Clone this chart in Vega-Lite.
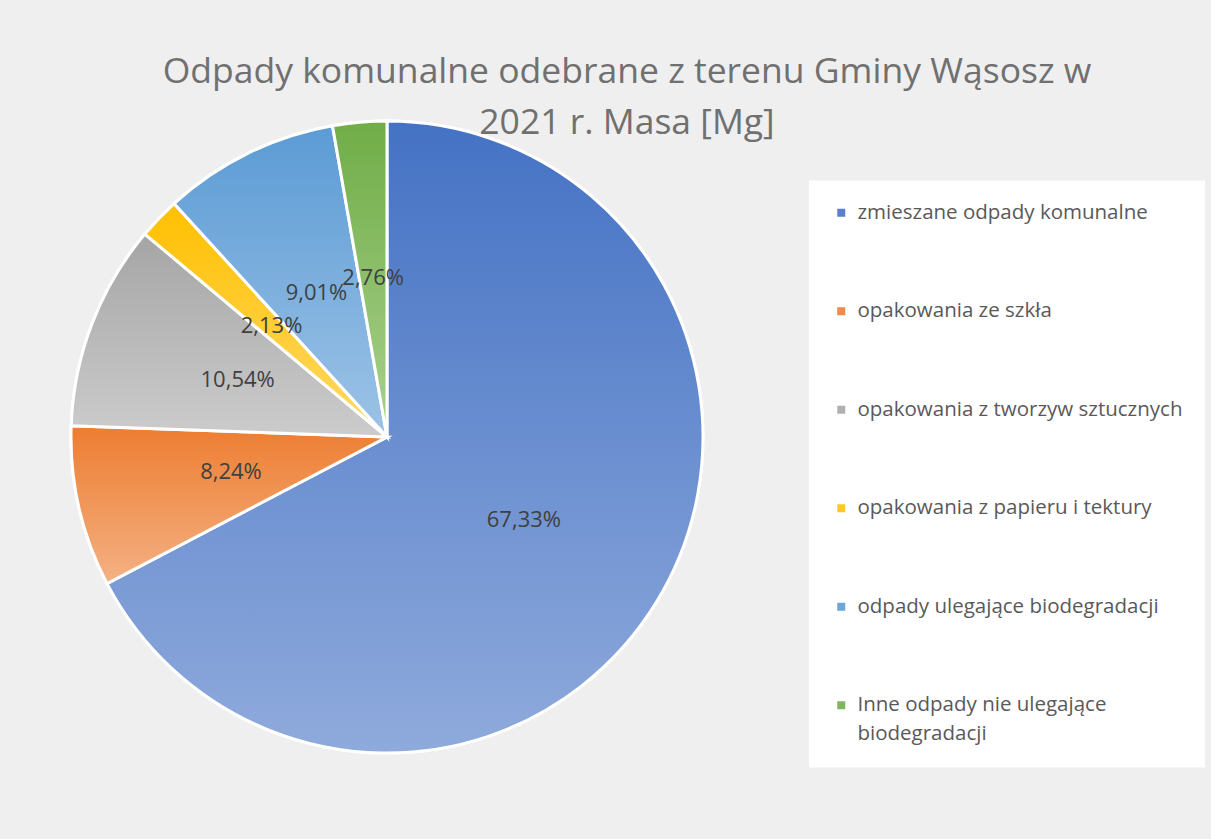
{
  "$schema": "https://vega.github.io/schema/vega-lite/v6.json",
  "width": 632,
  "height": 632,
  "autosize": "none",
  "padding": {"left": 71, "top": 121, "right": 508, "bottom": 86},
  "background": "#efefef",
  "config": {
    "view": {"stroke": null},
    "style": {"guide-label": {"lineHeight": 29, "dy": -14}}
  },
  "title": {
    "text": ["Odpady komunalne odebrane z terenu Gminy Wąsosz w", "2021 r. Masa [Mg]"],
    "font": "Open Sans",
    "fontSize": 35.5,
    "fontWeight": "normal",
    "color": "#707070",
    "anchor": "middle",
    "frame": "group",
    "dx": 240,
    "offset": -26,
    "lineHeight": 51
  },
  "data": {
    "values": [
      {"idx": 1, "cat": "zmieszane odpady komunalne", "pct": 67.33, "label": "67,33%"},
      {"idx": 2, "cat": "opakowania ze szkła", "pct": 8.24, "label": "8,24%"},
      {"idx": 3, "cat": "opakowania z tworzyw sztucznych", "pct": 10.54, "label": "10,54%"},
      {"idx": 4, "cat": "opakowania z papieru i tektury", "pct": 2.13, "label": "2,13%"},
      {"idx": 5, "cat": "odpady ulegające biodegradacji", "pct": 9.01, "label": "9,01%"},
      {"idx": 6, "cat": "Inne odpady nie ulegające biodegradacji", "pct": 2.76, "label": "2,76%"}
    ]
  },
  "encoding": {
    "theta": {"field": "pct", "type": "quantitative", "stack": true},
    "order": {"field": "idx", "type": "quantitative"}
  },
  "layer": [
    {
      "mark": {"type": "arc", "stroke": "#ffffff", "strokeWidth": 3},
      "encoding": {
        "color": {
          "field": "cat",
          "type": "nominal",
          "scale": {
            "domain": ["zmieszane odpady komunalne", "opakowania ze szkła", "opakowania z tworzyw sztucznych", "opakowania z papieru i tektury", "odpady ulegające biodegradacji", "Inne odpady nie ulegające biodegradacji"],
            "range": ["#5b7fcc", "#ef8a48", "#b0b0b0", "#ffc829", "#6ea6d9", "#80b75c"]
          },
          "legend": {
            "title": null,
            "orient": "none",
            "legendX": 738,
            "legendY": 59.5,
            "fillColor": "#ffffff",
            "padding": 22,
            "labelFont": "Open Sans",
            "labelFontSize": 20.5,
            "labelColor": "#595959",
            "labelBaseline": "line-top",
            "symbolType": "square",
            "symbolSize": 64,
            "symbolStrokeWidth": 0,
            "rowPadding": 77.5,
            "labelOffset": 6,
            "labelLimit": 400,
            "labelExpr": "datum.label == 'Inne odpady nie ulegające biodegradacji' ? ['Inne odpady nie ulegające', 'biodegradacji'] : datum.label"
          }
        }
      }
    },
    {
      "mark": {"type": "arc", "stroke": "#ffffff", "strokeWidth": 3},
      "encoding": {
        "color": {
          "condition": [
            {"test": "datum.idx == 1", "value": {"gradient": "linear", "x1": 0, "y1": 0, "x2": 0, "y2": 1, "stops": [{"offset": 0, "color": "#4472c4"}, {"offset": 1, "color": "#8faadc"}]}},
            {"test": "datum.idx == 2", "value": {"gradient": "linear", "x1": 0, "y1": 0, "x2": 0, "y2": 1, "stops": [{"offset": 0, "color": "#ed7d31"}, {"offset": 1, "color": "#f4b183"}]}},
            {"test": "datum.idx == 3", "value": {"gradient": "linear", "x1": 0, "y1": 0, "x2": 0, "y2": 1, "stops": [{"offset": 0, "color": "#a5a5a5"}, {"offset": 1, "color": "#cccccc"}]}},
            {"test": "datum.idx == 4", "value": {"gradient": "linear", "x1": 0, "y1": 0, "x2": 0, "y2": 1, "stops": [{"offset": 0, "color": "#ffc000"}, {"offset": 1, "color": "#ffd966"}]}},
            {"test": "datum.idx == 5", "value": {"gradient": "linear", "x1": 0, "y1": 0, "x2": 0, "y2": 1, "stops": [{"offset": 0, "color": "#5b9bd5"}, {"offset": 1, "color": "#9dc3e6"}]}}
          ],
          "value": {"gradient": "linear", "x1": 0, "y1": 0, "x2": 0, "y2": 1, "stops": [{"offset": 0, "color": "#70ad47"}, {"offset": 1, "color": "#a9d18e"}]}
        }
      }
    },
    {
      "mark": {"type": "text", "radius": 160, "font": "Open Sans", "fontSize": 22, "color": "#404040"},
      "encoding": {"text": {"field": "label", "type": "nominal"}}
    }
  ]
}
